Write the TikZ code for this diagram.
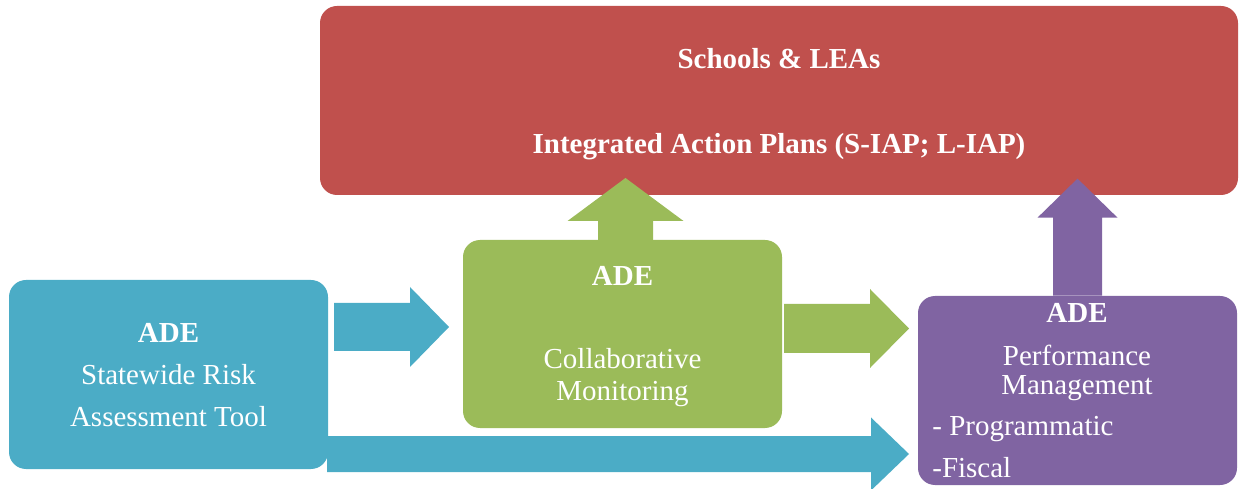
\documentclass[tikz,border=0pt]{standalone}
\usepackage{fontspec}
\setmainfont{Liberation Serif}
\usetikzlibrary{fit}

\definecolor{schoolred}{HTML}{C0504D}
\definecolor{monitorgreen}{HTML}{9BBB59}
\definecolor{riskblue}{HTML}{4BACC6}
\definecolor{perfpurple}{HTML}{8064A2}

\tikzset{
  box/.style={rounded corners=0.34cm, inner sep=0pt},
  boxtext/.style={text=white, inner sep=0pt, align=center, font=\fontsize{16.5}{#1}\selectfont},
  % fat arrow: length, half shaft, half head, head length
  pics/blockarrow/.style n args={4}{code={
    \fill[pic actions] (0,-#2) -- (#1-#4,-#2) -- (#1-#4,-#3) -- (#1,0)
      -- (#1-#4,#3) -- (#1-#4,#2) -- (0,#2) -- cycle;
  }}
}

\begin{document}
\begin{tikzpicture}[x=0.02cm, y=-0.02cm]
    \useasboundingbox (0,0) rectangle (1244,489);

    % the four boxes
    \node[box, fill=schoolred, fit={(320,6) (1238,195)}] (schools) {};
    \node[box, fill=riskblue, fit={(9,280) (328,469)}] (risk) {};
    \node[box, fill=monitorgreen, fit={(463,240) (782,428)}] (monitor) {};
    \node[box, fill=perfpurple, fit={(918,296) (1237,485)}] (perf) {};

    % arrows
    \pic[fill=riskblue] at (334,327) {blockarrow={115}{24}{40}{39}};
    \pic[fill=monitorgreen] at (784,328.5) {blockarrow={125}{24.5}{39.5}{39}};
    \pic[fill=riskblue] at (327,454) {blockarrow={582}{18}{36.5}{38}};
    \pic[fill=monitorgreen, rotate=90] at (625.5,240) {blockarrow={62}{27.5}{58}{43}};
    \pic[fill=perfpurple, rotate=90] at (perf.north) {blockarrow={117}{24.5}{40}{39}};

    % texts
    \node[boxtext=20] (schoolstext) at (779,104)
          {\textbf{Schools \& LEAs}\\[28pt]\textbf{Integrated Action Plans (S-IAP; L-IAP)}};
    \node[boxtext=24] (risktext) at (168.5,375)
          {\textbf{ADE}\\Statewide Risk\\Assessment Tool};
    \node[boxtext=18] (monitortext) at (622.5,336.5)
          {\textbf{ADE}\\[29pt]Collaborative\\Monitoring};
    \node[boxtext=17] (perftitle) at (1077,352.5)
          {\textbf{ADE}\\[7pt]Performance\\Management};
    \node[boxtext=17, anchor=base west] (prog) at (932,436) {- Programmatic};
    \node[boxtext=17, anchor=base west] (fisc) at (932,477) {-Fiscal};
\end{tikzpicture}
\end{document}
